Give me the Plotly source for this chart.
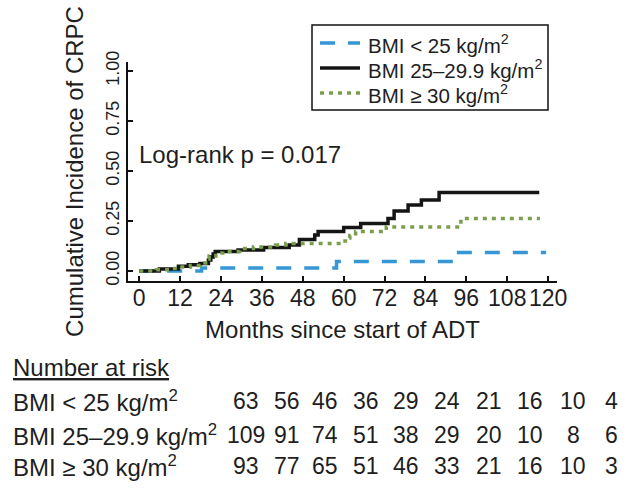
import plotly.graph_objects as go

# ---- data ----
t_low = [0, 18.3, 57.9, 93.0, 119.4]
y_low = [0, 0.015, 0.047, 0.092, 0.092]

t_mid = [0, 5.9, 11.5, 14.4, 17.8, 20.3, 21.0, 21.7, 22.3, 29.0, 36.5, 44.0, 47.0,
         51.5, 52.5, 60.0, 65.0, 73.0, 74.8, 78.9, 82.8, 88.0, 117.4]
y_mid = [0, 0.010, 0.024, 0.031, 0.038, 0.055, 0.070, 0.085, 0.097, 0.105, 0.117, 0.130, 0.157,
         0.180, 0.197, 0.217, 0.238, 0.263, 0.300, 0.330, 0.355, 0.393, 0.393]

t_high = [0, 5.0, 9.0, 12.0, 15.0, 18.0, 19.5, 20.5, 22.5, 24.5, 29.5, 33.5, 40.0, 43.0,
          59.5, 60.5, 61.8, 63.5, 72.5, 94.4, 117.6]
y_high = [0, 0.006, 0.012, 0.020, 0.028, 0.040, 0.060, 0.075, 0.090, 0.098, 0.112, 0.120, 0.130, 0.138,
          0.150, 0.165, 0.178, 0.197, 0.220, 0.262, 0.262]

group_names = ["BMI < 25 kg/m<sup>2</sup>", "BMI 25–29.9 kg/m<sup>2</sup>", "BMI ≥ 30 kg/m<sup>2</sup>"]
x_ticks = [0, 12, 24, 36, 48, 60, 72, 84, 96, 108, 120]
y_ticks = [0, 0.25, 0.5, 0.75, 1.0]
y_tick_text = ["0.00", "0.25", "0.50", "0.75", "1.00"]

risk_low = [63, 56, 46, 36, 29, 24, 21, 16, 10, 4]
risk_mid = [109, 91, 74, 51, 38, 29, 20, 10, 8, 6]
risk_high = [93, 77, 65, 51, 46, 33, 21, 16, 10, 3]

pvalue_text = "Log-rank p = 0.017"

# ---- layout geometry ----
W, H = 629, 493
ML, MR, MT, MB = 128, 72, 62, 212
PW = W - ML - MR
PH = H - MT - MB

def px(xp):
    return (xp - ML) / PW

def py(yp):
    return (H - MB - yp) / PH

FONT = "Liberation Sans, Arial, sans-serif"
TXT = "#1e1e1e"

styles = [
    dict(color="#3597d6", width=3.5, dash="15px,13px"),
    dict(color="#151515", width=3.5, dash="solid"),
    dict(color="#7a9e4e", width=3.5, dash="4px,5px"),
]

fig = go.Figure()
for name, tx, ty, st in zip(group_names, [t_low, t_mid, t_high], [y_low, y_mid, y_high], styles):
    fig.add_trace(go.Scatter(x=tx, y=ty, mode="lines", name=name, showlegend=False,
                             line=dict(color=st["color"], width=st["width"], dash=st["dash"], shape="hv")))

shapes = []
annotations = [
    dict(text=pvalue_text, x=px(137), y=py(154), xref="paper", yref="paper",
         xanchor="left", yanchor="middle", showarrow=False, font=dict(size=24, family=FONT, color=TXT)),
    dict(text="<u>Number at risk</u>", x=px(11), y=py(367), xref="paper", yref="paper",
         xanchor="left", yanchor="middle", showarrow=False, font=dict(size=24, family=FONT, color=TXT)),
]

# legend box (drawn by hand to match the compact row spacing of the original)
shapes.append(dict(type="rect", xref="paper", yref="paper", x0=px(312), x1=px(548),
                   y0=py(25), y1=py(110), line=dict(color="#111", width=1.5), fillcolor="white"))
leg_y = [43, 68, 93]
for name, ly, st in zip(group_names, leg_y, styles):
    shapes.append(dict(type="line", xref="paper", yref="paper", x0=px(320), x1=px(360),
                       y0=py(ly), y1=py(ly), line=dict(color=st["color"], width=st["width"], dash=st["dash"])))
    annotations.append(dict(text=name, x=px(366), y=py(ly + 1), xref="paper", yref="paper",
                            xanchor="left", yanchor="middle", showarrow=False,
                            font=dict(size=20.5, family=FONT, color=TXT)))

row_y = [401, 435, 466]
col_x = [246, 287, 325, 366, 406, 447, 489, 530, 573, 611]
for name, ry, vals in zip(group_names, row_y, [risk_low, risk_mid, risk_high]):
    annotations.append(dict(text=name, x=px(11), y=py(ry), xref="paper", yref="paper",
                            xanchor="left", yanchor="middle", showarrow=False,
                            font=dict(size=24, family=FONT, color=TXT)))
    for cx, v in zip(col_x, vals):
        annotations.append(dict(text=str(v), x=px(cx), y=py(ry), xref="paper", yref="paper",
                                xanchor="center", yanchor="middle", showarrow=False,
                                font=dict(size=23, family=FONT, color=TXT)))

fig.update_layout(
    width=W, height=H,
    margin=dict(l=ML, r=MR, t=MT, b=MB, pad=0),
    paper_bgcolor="white", plot_bgcolor="white",
    font=dict(family=FONT, color=TXT),
    showlegend=False,
    shapes=shapes,
    annotations=annotations,
    xaxis=dict(range=[-3.3, 122.6], tickvals=x_ticks, ticktext=[str(v) for v in x_ticks],
               showline=True, linecolor="#111", linewidth=2, ticks="inside", ticklen=5,
               tickwidth=1.5, tickcolor="#111", showgrid=False, zeroline=False,
               ticklabelstandoff=-5,
               tickfont=dict(size=23, family=FONT, color=TXT),
               title=dict(text="Months since start of ADT", font=dict(size=24, family=FONT, color=TXT),
                          standoff=12)),
    yaxis=dict(range=[-0.05, 1.045], tickvals=y_ticks, ticktext=y_tick_text, tickangle=-90,
               showline=True, linecolor="#111", linewidth=2, ticks="inside", ticklen=5,
               tickwidth=1.5, tickcolor="#111", showgrid=False, zeroline=False,
               tickfont=dict(size=18, family=FONT, color=TXT),
               title=dict(text="Cumulative Incidence of CRPC", font=dict(size=24, family=FONT, color=TXT),
                          standoff=12)),
)

fig.write_html("out.html", config={"displayModeBar": False},
               post_script="document.body.style.margin='0';")
